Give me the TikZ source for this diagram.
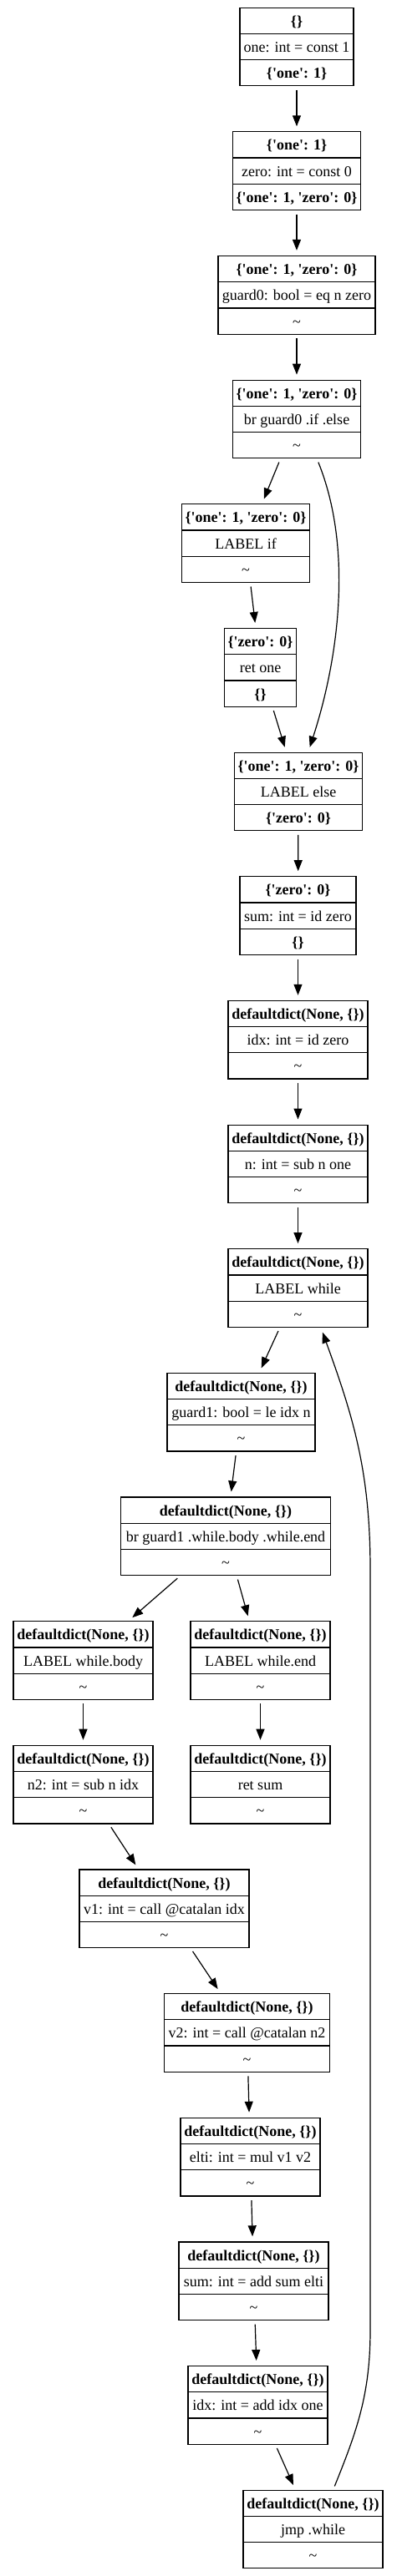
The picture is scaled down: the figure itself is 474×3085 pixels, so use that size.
\documentclass[tikz,border=0pt]{standalone}
\usepackage{fontspec}
\setmainfont{Liberation Serif}[Ligatures=TeXOff]
\usetikzlibrary{arrows.meta,shapes.multipart}
\newcommand{\rs}{\rule[-4pt]{0pt}{21pt}}

\begin{document}
\begin{tikzpicture}[x=1pt,y=1pt,font=\fontsize{18}{22}\selectfont,
  rec/.style={draw,line width=1.2pt,rectangle split,rectangle split parts=3,inner xsep=4pt,inner ysep=4.5pt},
  flow/.style={->,line width=1.2pt,shorten <=4.5pt,shorten >=6pt},
  >={Triangle[length=13pt,width=10pt]}]
\useasboundingbox (0,0) rectangle (474,-3085);
\node[rec,minimum width=136pt] (one) at (355,-56) {\rs\textbf{\{\}}\nodepart{two}\rs one: int = const 1\nodepart{three}\rs\textbf{\{'one': 1\}}};
\node[rec,minimum width=152pt] (zero) at (355,-204.7) {\rs\textbf{\{'one': 1\}}\nodepart{two}\rs zero: int = const 0\nodepart{three}\rs\textbf{\{'one': 1, 'zero': 0\}}};
\node[rec,minimum width=188pt] (guardz) at (355,-353.3) {\rs\textbf{\{'one': 1, 'zero': 0\}}\nodepart{two}\rs guard0: bool = eq n zero\nodepart{three}\rs\textasciitilde};
\node[rec,minimum width=152pt] (brif) at (355,-502) {\rs\textbf{\{'one': 1, 'zero': 0\}}\nodepart{two}\rs br guard0 .if .else\nodepart{three}\rs\textasciitilde};
\node[rec,minimum width=152pt] (lif) at (294,-650.6) {\rs\textbf{\{'one': 1, 'zero': 0\}}\nodepart{two}\rs LABEL if\nodepart{three}\rs\textasciitilde};
\node[rec,minimum width=85pt] (retone) at (311.5,-799.3) {\rs\textbf{\{'zero': 0\}}\nodepart{two}\rs ret one\nodepart{three}\rs\textbf{\{\}}};
\node[rec,minimum width=152pt] (lelse) at (357,-947.9) {\rs\textbf{\{'one': 1, 'zero': 0\}}\nodepart{two}\rs LABEL else\nodepart{three}\rs\textbf{\{'zero': 0\}}};
\node[rec,minimum width=139pt] (sumz) at (356.5,-1096.6) {\rs\textbf{\{'zero': 0\}}\nodepart{two}\rs sum: int = id zero\nodepart{three}\rs\textbf{\{\}}};
\node[rec,minimum width=167pt] (idxz) at (356.5,-1245.2) {\rs\textbf{defaultdict(None, \{\})}\nodepart{two}\rs idx: int = id zero\nodepart{three}\rs\textasciitilde};
\node[rec,minimum width=167pt] (ndec) at (356.5,-1393.9) {\rs\textbf{defaultdict(None, \{\})}\nodepart{two}\rs n: int = sub n one\nodepart{three}\rs\textasciitilde};
\node[rec,minimum width=167pt] (lwhile) at (356.5,-1542.5) {\rs\textbf{defaultdict(None, \{\})}\nodepart{two}\rs LABEL while\nodepart{three}\rs\textasciitilde};
\node[rec,minimum width=177pt] (guardo) at (288.5,-1691.2) {\rs\textbf{defaultdict(None, \{\})}\nodepart{two}\rs guard1: bool = le idx n\nodepart{three}\rs\textasciitilde};
\node[rec,minimum width=251pt] (brwhile) at (270,-1839.8) {\rs\textbf{defaultdict(None, \{\})}\nodepart{two}\rs br guard1 .while.body .while.end\nodepart{three}\rs\textasciitilde};
\node[rec,minimum width=167pt] (lbody) at (99.5,-1988.5) {\rs\textbf{defaultdict(None, \{\})}\nodepart{two}\rs LABEL while.body\nodepart{three}\rs\textasciitilde};
\node[rec,minimum width=167pt] (lend) at (311.5,-1988.5) {\rs\textbf{defaultdict(None, \{\})}\nodepart{two}\rs LABEL while.end\nodepart{three}\rs\textasciitilde};
\node[rec,minimum width=167pt] (ntwo) at (99.5,-2137.1) {\rs\textbf{defaultdict(None, \{\})}\nodepart{two}\rs n2: int = sub n idx\nodepart{three}\rs\textasciitilde};
\node[rec,minimum width=167pt] (retsum) at (311.5,-2137.1) {\rs\textbf{defaultdict(None, \{\})}\nodepart{two}\rs ret sum\nodepart{three}\rs\textasciitilde};
\node[rec,minimum width=203pt] (vone) at (196.5,-2285.8) {\rs\textbf{defaultdict(None, \{\})}\nodepart{two}\rs v1: int = call @catalan idx\nodepart{three}\rs\textasciitilde};
\node[rec,minimum width=198pt] (vtwo) at (295.5,-2434.4) {\rs\textbf{defaultdict(None, \{\})}\nodepart{two}\rs v2: int = call @catalan n2\nodepart{three}\rs\textasciitilde};
\node[rec,minimum width=167pt] (elti) at (299.5,-2583.1) {\rs\textbf{defaultdict(None, \{\})}\nodepart{two}\rs elti: int = mul v1 v2\nodepart{three}\rs\textasciitilde};
\node[rec,minimum width=179pt] (sumadd) at (303.5,-2731.7) {\rs\textbf{defaultdict(None, \{\})}\nodepart{two}\rs sum: int = add sum elti\nodepart{three}\rs\textasciitilde};
\node[rec,minimum width=167pt] (idxadd) at (308.5,-2880.4) {\rs\textbf{defaultdict(None, \{\})}\nodepart{two}\rs idx: int = add idx one\nodepart{three}\rs\textasciitilde};
\node[rec,minimum width=167pt] (jmp) at (374.5,-3029) {\rs\textbf{defaultdict(None, \{\})}\nodepart{two}\rs jmp .while\nodepart{three}\rs\textasciitilde};
\foreach \a/\b in {one/zero,zero/guardz,guardz/brif,brif/lif,lif/retone,retone/lelse,lelse/sumz,sumz/idxz,idxz/ndec,ndec/lwhile,lwhile/guardo,guardo/brwhile,brwhile/lbody,brwhile/lend,lbody/ntwo,lend/retsum,ntwo/vone,vone/vtwo,vtwo/elti,elti/sumadd,sumadd/idxadd,idxadd/jmp}
  \draw[flow] (\a) -- (\b);
\draw[flow] (brif.-63) to[out=-68,in=72,looseness=0.85] (lelse.76);
\coordinate (loopdown) at (443,-2790);
\coordinate (loopup) at (443,-1880);
\draw[flow] (jmp.63) to[out=68,in=-90] (loopdown) -- (loopup) to[out=90,in=-70] (lwhile.-60);
\end{tikzpicture}
\end{document}
